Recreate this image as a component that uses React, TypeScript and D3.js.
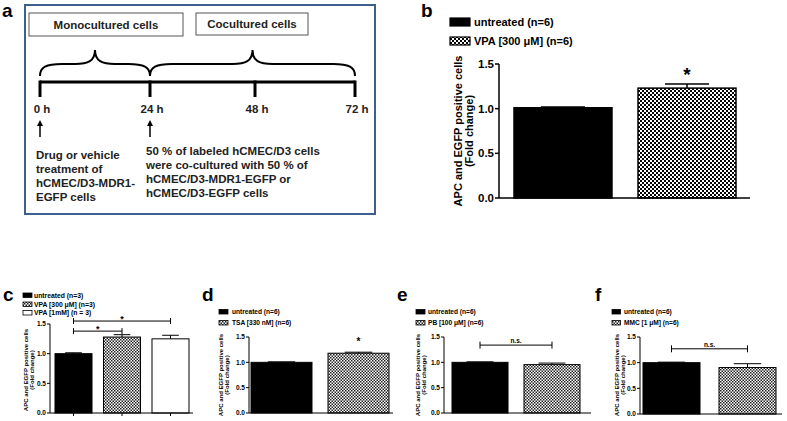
import React from "react";
import * as d3 from "d3";

// ---------- Panel a data ----------
const timelineHours = [0, 24, 48, 72];
const timelineLabels = ["0 h", "24 h", "48 h", "72 h"];
const phaseLabels = ["Monocultured cells", "Cocultured cells"];
const phaseRanges: [number, number][] = [[0, 24], [24, 72]];
const arrowHours = [0, 24];
const leftNote = ["Drug or vehicle", "treatment of", "hCMEC/D3-MDR1-", "EGFP cells"];
const rightNote = [
  "50 % of labeled hCMEC/D3 cells",
  "were co-cultured with 50 % of",
  "hCMEC/D3-MDR1-EGFP or",
  "hCMEC/D3-EGFP cells",
];

// ---------- Bar panel data ----------
const yTicks = [0, 0.5, 1.0, 1.5];
const yLabelLines = ["APC and EGFP positive cells", "(Fold change)"];

const bLabels = ["untreated (n=6)", "VPA [300 μM] (n=6)"];
const bMeans = [1.01, 1.23];
const bSem = [0.01, 0.045];

const cLabels = ["untreated (n=3)", "VPA [300 μM] (n=3)", "VPA [1mM] (n = 3)"];
const cMeans = [1.0, 1.28, 1.25];
const cSem = [0.015, 0.04, 0.06];

const dLabels = ["untreated (n=6)", "TSA [330 nM] (n=6)"];
const dMeans = [1.0, 1.18];
const dSem = [0.01, 0.02];

const eLabels = ["untreated (n=6)", "PB [100 μM] (n=6)"];
const eMeans = [1.0, 0.955];
const eSem = [0.01, 0.03];

const fLabels = ["untreated (n=6)", "MMC [1 μM] (n=6)"];
const fMeans = [1.0, 0.905];
const fSem = [0.01, 0.075];

// fill kinds: 0 solid black, 1 checker, 2 white
const fillKinds = [0, 1, 2];

type Ann =
  | { kind: "star"; bar: number; value: number }
  | { kind: "bracket"; from: number; to: number; value: number; text: string };

const bAnn: Ann[] = [{ kind: "star", bar: 1, value: 1.43 }];
const cAnn: Ann[] = [
  { kind: "bracket", from: 0, to: 1, value: 1.38, text: "*" },
  { kind: "bracket", from: 0, to: 2, value: 1.55, text: "*" },
];
const dAnn: Ann[] = [{ kind: "star", bar: 1, value: 1.45 }];
const eAnn: Ann[] = [{ kind: "bracket", from: 0, to: 1, value: 1.34, text: "n.s." }];
const fAnn: Ann[] = [{ kind: "bracket", from: 0, to: 1, value: 1.27, text: "n.s." }];

const FONT = "'Liberation Sans', Arial, Helvetica, sans-serif";

type Layout = {
  letter: string; lx: number; ly: number;
  axisL: number; axisR: number; yTop: number; yBot: number;
  band: [number, number]; pad: number;
  tickFs: number; tickLen: number; sw: number;
  legX: number; legW: number; legH: number; legRows: number[]; legTextX: number; legFs: number;
  yl1: number; yl2: number; ylFs: number; ylCy: number;
  pattern: string; xTicks: boolean; capFrac: number; starFs: number; annFs: number; endTick: number;
};

const layoutB: Layout = {
  letter: "b", lx: 421, ly: 17, axisL: 499, axisR: 750, yTop: 64, yBot: 198,
  band: [514, 736], pad: 0.21, tickFs: 11.5, tickLen: 4, sw: 1.5,
  legX: 450, legW: 20, legH: 8, legRows: [18, 37], legTextX: 474, legFs: 11,
  yl1: 462, yl2: 473, ylFs: 11, ylCy: 131, pattern: "chkB", xTicks: false,
  capFrac: 0.45, starFs: 19, annFs: 11, endTick: 4,
};
const layoutC: Layout = {
  letter: "c", lx: 3, ly: 301, axisL: 50, axisR: 193, yTop: 324, yBot: 413,
  band: [55, 189], pad: 0.237, tickFs: 6.5, tickLen: 3, sw: 1,
  legX: 23, legW: 9, legH: 4.5, legRows: [293, 302, 310.5], legTextX: 34, legFs: 6.8,
  yl1: 28, yl2: 33.5, ylFs: 6, ylCy: 370, pattern: "chkS", xTicks: true,
  capFrac: 0.45, starFs: 9, annFs: 6.5, endTick: 3,
};
const layoutD: Layout = {
  letter: "d", lx: 202, ly: 301, axisL: 249, axisR: 393, yTop: 337, yBot: 413,
  band: [251, 389], pad: 0.208, tickFs: 6.5, tickLen: 3, sw: 1,
  legX: 219, legW: 9, legH: 4.5, legRows: [309.5, 320.5], legTextX: 232, legFs: 6.6,
  yl1: 223, yl2: 229, ylFs: 6, ylCy: 375, pattern: "chkS", xTicks: false,
  capFrac: 0.45, starFs: 10, annFs: 6.5, endTick: 3,
};
const layoutE: Layout = {
  letter: "e", lx: 397, ly: 301, axisL: 444, axisR: 591, yTop: 337, yBot: 413,
  band: [452, 580], pad: 0.222, tickFs: 6.5, tickLen: 3, sw: 1,
  legX: 416, legW: 9, legH: 4.5, legRows: [309.5, 320.5], legTextX: 428, legFs: 6.6,
  yl1: 420, yl2: 426, ylFs: 6, ylCy: 375, pattern: "chkS", xTicks: false,
  capFrac: 0.48, starFs: 10, annFs: 6.5, endTick: 3.5,
};
const layoutF: Layout = {
  letter: "f", lx: 595, ly: 301, axisL: 640, axisR: 782, yTop: 337, yBot: 414,
  band: [643, 776], pad: 0.25, tickFs: 6.5, tickLen: 3, sw: 1,
  legX: 612, legW: 8.5, legH: 4.5, legRows: [309.5, 320.5], legTextX: 624, legFs: 6.6,
  yl1: 619, yl2: 625, ylFs: 6, ylCy: 375, pattern: "chkS", xTicks: false,
  capFrac: 0.48, starFs: 10, annFs: 6.5, endTick: 3.5,
};

function fillFor(kind: number, pattern: string) {
  if (kind === 0) return "#000";
  if (kind === 1) return `url(#${pattern})`;
  return "#fff";
}

function BarPanel({ L, labels, means, sem, ann }: { L: Layout; labels: string[]; means: number[]; sem: number[]; ann: Ann[] }) {
  const y = d3.scaleLinear().domain([0, 1.5]).range([L.yBot, L.yTop]);
  const x = d3.scaleBand<number>().domain(labels.map((_, i) => i)).range(L.band).paddingInner(L.pad).paddingOuter(0);
  const bw = x.bandwidth();
  const cx = (i: number) => (x(i) as number) + bw / 2;
  const cap = bw * L.capFrac;
  return (
    <g fontFamily={FONT} fontWeight="bold">
      <text x={L.lx} y={L.ly} fontSize={19} fontWeight="bold">{L.letter}</text>
      {/* legend */}
      {labels.map((lab, i) => (
        <g key={"leg" + i}>
          <rect x={L.legX} y={L.legRows[i]} width={L.legW} height={L.legH}
            fill={fillFor(fillKinds[i], L.pattern)} stroke="#000" strokeWidth={L.sw * 0.8} />
          <text x={L.legTextX} y={L.legRows[i] + L.legH} fontSize={L.legFs}>{lab}</text>
        </g>
      ))}
      {/* y label */}
      {yLabelLines.map((t, i) => (
        <text key={"yl" + i} transform={`translate(${i === 0 ? L.yl1 : L.yl2},${L.ylCy}) rotate(-90)`}
          textAnchor="middle" fontSize={L.ylFs}>{t}</text>
      ))}
      {/* bars */}
      {means.map((m, i) => (
        <g key={"bar" + i}>
          <line x1={cx(i)} x2={cx(i)} y1={y(m)} y2={y(m + sem[i])} stroke="#000" strokeWidth={L.sw} />
          <line x1={cx(i) - cap / 2} x2={cx(i) + cap / 2} y1={y(m + sem[i])} y2={y(m + sem[i])} stroke="#000" strokeWidth={L.sw} />
          <rect x={x(i)} y={y(m)} width={bw} height={y(0) - y(m)}
            fill={fillFor(fillKinds[i], L.pattern)} stroke="#000" strokeWidth={L.sw} />
        </g>
      ))}
      {/* axes */}
      <line x1={L.axisL} x2={L.axisL} y1={y(1.5)} y2={y(0)} stroke="#000" strokeWidth={L.sw} />
      <line x1={L.axisL} x2={L.axisR} y1={y(0)} y2={y(0)} stroke="#000" strokeWidth={L.sw} />
      {yTicks.map((t) => (
        <g key={"yt" + t}>
          <line x1={L.axisL - L.tickLen} x2={L.axisL} y1={y(t)} y2={y(t)} stroke="#000" strokeWidth={L.sw} />
          <text x={L.axisL - L.tickLen - 1} y={y(t)} dy="0.35em" textAnchor="end" fontSize={L.tickFs}>{d3.format(".1f")(t)}</text>
        </g>
      ))}
      {L.xTicks && means.map((_, i) => (
        <line key={"xt" + i} x1={cx(i)} x2={cx(i)} y1={y(0)} y2={y(0) + 3} stroke="#000" strokeWidth={L.sw} />
      ))}
      {/* annotations */}
      {ann.map((a, k) => {
        if (a.kind === "star") {
          return <text key={"a" + k} x={cx(a.bar)} y={y(a.value) + L.starFs * 0.55} textAnchor="middle" fontSize={L.starFs}>*</text>;
        }
        const x1 = cx(a.from), x2 = cx(a.to), yy = y(a.value);
        const isStar = a.text === "*";
        return (
          <g key={"a" + k}>
            <line x1={x1} x2={x2} y1={yy} y2={yy} stroke="#000" strokeWidth={L.sw} />
            <line x1={x1} x2={x1} y1={yy - L.endTick} y2={yy + L.endTick} stroke="#000" strokeWidth={L.sw} />
            <line x1={x2} x2={x2} y1={yy - L.endTick} y2={yy + L.endTick} stroke="#000" strokeWidth={L.sw} />
            <text x={(x1 + x2) / 2} y={isStar ? yy + 1 : yy - 2} textAnchor="middle" fontSize={isStar ? L.starFs : L.annFs}>{a.text}</text>
          </g>
        );
      })}
    </g>
  );
}

function bracePath(x1: number, x2: number, yb: number, ym: number, yp: number) {
  const mid = (x1 + x2) / 2;
  const p = d3.path();
  p.moveTo(x1, yb);
  p.bezierCurveTo(x1, ym + 3, x1 + 6, ym, x1 + 22, ym);
  p.lineTo(mid - 20, ym);
  p.bezierCurveTo(mid - 7, ym, mid, ym - 3, mid, yp);
  p.bezierCurveTo(mid, ym - 3, mid + 7, ym, mid + 20, ym);
  p.lineTo(x2 - 22, ym);
  p.bezierCurveTo(x2 - 6, ym, x2, ym + 3, x2, yb);
  return p.toString();
}

function PanelA() {
  const t = d3.scaleLinear().domain(timelineHours).range([40, 150, 255, 355]);
  const lineY = 82;
  const boxes = [
    { x: 29, y: 13, w: 154, h: 23 },
    { x: 196, y: 13, w: 112, h: 22 },
  ];
  return (
    <g fontFamily={FONT} fontWeight="bold">
      <text x={2} y={17} fontSize={19}>a</text>
      <rect x={25} y={5} width={350} height={209} fill="none" stroke="#3f5f8e" strokeWidth={2} />
      {phaseLabels.map((lab, i) => (
        <g key={"ph" + i}>
          <rect x={boxes[i].x} y={boxes[i].y} width={boxes[i].w} height={boxes[i].h} fill="#fff" stroke="#555" strokeWidth={1} />
          <text x={boxes[i].x + boxes[i].w / 2} y={boxes[i].y + boxes[i].h / 2} dy="0.36em" textAnchor="middle" fontSize={11.5} fill="#222">{lab}</text>
        </g>
      ))}
      {phaseRanges.map((r, i) => (
        <path key={"br" + i} d={bracePath(t(r[0]), t(r[1]), 76, 64, 50)} fill="none" stroke="#000" strokeWidth={2} />
      ))}
      <line x1={t(0)} x2={t(72)} y1={lineY} y2={lineY} stroke="#000" strokeWidth={3} />
      {timelineHours.map((h, i) => (
        <g key={"tk" + i}>
          <line x1={t(h)} x2={t(h)} y1={lineY - 1.5} y2={lineY + 15} stroke="#000" strokeWidth={3} />
          <text x={t(h) + 2} y={113} textAnchor="middle" fontSize={11.5} fill="#222">{timelineLabels[i]}</text>
        </g>
      ))}
      {arrowHours.map((h, i) => (
        <g key={"ar" + i}>
          <line x1={t(h)} x2={t(h)} y1={137} y2={125} stroke="#000" strokeWidth={1.5} />
          <path d={`M${t(h) - 3},${126} L${t(h)},${120} L${t(h) + 3},${126} Z`} fill="#000" />
        </g>
      ))}
      {leftNote.map((s, i) => (
        <text key={"ln" + i} x={36} y={159 + i * 14} fontSize={11.5} fill="#222">{s}</text>
      ))}
      {rightNote.map((s, i) => (
        <text key={"rn" + i} x={146} y={155 + i * 14} fontSize={11.5} fill="#222">{s}</text>
      ))}
    </g>
  );
}

export default function App() {
  return (
    <svg width={787} height={421} style={{ position: "absolute", left: 0, top: 0, background: "#fff" }}>
      <defs>
        <pattern id="chkB" width={4} height={4} patternUnits="userSpaceOnUse">
          <rect width={4} height={4} fill="#fff" />
          <rect width={2} height={2} fill="#000" />
          <rect x={2} y={2} width={2} height={2} fill="#000" />
        </pattern>
        <pattern id="chkS" width={3} height={3} patternUnits="userSpaceOnUse">
          <rect width={3} height={3} fill="#fff" />
          <rect width={1.5} height={1.5} fill="#222" />
          <rect x={1.5} y={1.5} width={1.5} height={1.5} fill="#222" />
        </pattern>
      </defs>
      <rect width={787} height={421} fill="#fff" />
      <PanelA />
      <BarPanel L={layoutB} labels={bLabels} means={bMeans} sem={bSem} ann={bAnn} />
      <BarPanel L={layoutC} labels={cLabels} means={cMeans} sem={cSem} ann={cAnn} />
      <BarPanel L={layoutD} labels={dLabels} means={dMeans} sem={dSem} ann={dAnn} />
      <BarPanel L={layoutE} labels={eLabels} means={eMeans} sem={eSem} ann={eAnn} />
      <BarPanel L={layoutF} labels={fLabels} means={fMeans} sem={fSem} ann={fAnn} />
    </svg>
  );
}
